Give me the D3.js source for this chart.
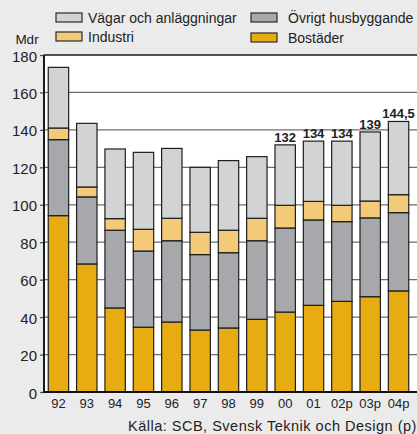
<!DOCTYPE html>
<html><head><meta charset="utf-8">
<script src="https://cdn.jsdelivr.net/npm/d3@7"></script>
<style>
html,body{margin:0;padding:0;background:#ebebeb;}
svg{display:block;}
text{font-family:"Liberation Sans",Arial,Helvetica,sans-serif;fill:#222;}
</style></head><body>
<svg id="c" width="417" height="434"></svg>
<script>
const categories = ["92","93","94","95","96","97","98","99","00","01","02p","03p","04p"];
const bostader = [94.2, 68.4, 44.9, 34.6, 37.4, 33.1, 34.2, 38.8, 42.7, 46.3, 48.4, 50.9, 54.0];
const ovrigt   = [40.6, 35.8, 41.5, 40.7, 43.4, 40.3, 40.2, 42.0, 44.9, 45.6, 42.6, 42.1, 41.8];
const industri = [6.2, 5.3, 6.2, 11.6, 12.0, 11.9, 12.0, 12.0, 12.1, 9.9, 8.7, 9.0, 9.6];
const vagar    = [32.4, 34.0, 37.2, 41.1, 37.3, 34.7, 37.2, 32.9, 32.3, 32.2, 34.3, 36.9, 39.1];
const totalLabels = [null,null,null,null,null,null,null,null,"132","134","134","139","144,5"];
const yTicks = [0,20,40,60,80,100,120,140,160,180];
const seriesKeys = ["bostader","ovrigt","industri","vagar"];
const seriesNames = {vagar:"Vägar och anläggningar", ovrigt:"Övrigt husbyggande", industri:"Industri", bostader:"Bostäder"};
const colors = {vagar:"#d2d3d5", ovrigt:"#a7a8ab", industri:"#f3ca78", bostader:"#e6ac12"};
const unit = "Mdr";
const source = "Källa: SCB, Svensk Teknik och Design (p)";

const svg = d3.select("#c");
const L = 44, R = 420, T = 55, B = 392;

const rows = categories.map((c,i)=>({cat:c, bostader:bostader[i], ovrigt:ovrigt[i], industri:industri[i], vagar:vagar[i]}));
const stack = d3.stack().keys(seriesKeys)(rows);

const x = d3.scaleBand().domain(categories).range([44, 413]).paddingInner(0.28).paddingOuter(0.15);
const y = d3.scaleLinear().domain([0,180]).range([B, T]);

// plot background
svg.append("rect").attr("x",L).attr("y",T).attr("width",R-L).attr("height",B-T).attr("fill","#fff");

// gridlines
svg.append("g").selectAll("line").data(yTicks.filter(d=>d>0 && d<180)).join("line")
  .attr("x1",L).attr("x2",R).attr("y1",d=>y(d)).attr("y2",d=>y(d))
  .attr("stroke","#6e6e6e").attr("stroke-width",1.3);

// bars
svg.append("g").selectAll("g").data(stack).join("g")
  .attr("fill",d=>colors[d.key])
  .selectAll("rect").data(d=>d).join("rect")
  .attr("x",d=>x(d.data.cat)).attr("width",x.bandwidth())
  .attr("y",d=>y(d[1])).attr("height",d=>y(d[0])-y(d[1]))
  .attr("stroke","#1e1e1e").attr("stroke-width",1.2);

// total labels
const totals = categories.map((c,i)=>bostader[i]+ovrigt[i]+industri[i]+vagar[i]);
svg.append("g").selectAll("text").data(categories.map((c,i)=>({c,i})).filter(d=>totalLabels[d.i])).join("text")
  .attr("x",d=>x(d.c)+x.bandwidth()/2).attr("y",d=>y(totals[d.i])-3)
  .attr("text-anchor","middle")
  .style("font-family","'Liberation Sans Narrow','Arial Narrow',sans-serif")
  .style("font-weight","bold").style("font-size","13px")
  .text(d=>totalLabels[d.i]);

// frame top
svg.append("line").attr("x1",L).attr("x2",R).attr("y1",T).attr("y2",T).attr("stroke","#1a1a1a").attr("stroke-width",1.5);

// y axis
const yAxis = d3.axisLeft(y).tickValues(yTicks).tickSize(4).tickPadding(3);
const ya = svg.append("g").attr("transform",`translate(${L},0)`).call(yAxis);
ya.select(".domain").remove();
ya.selectAll(".tick line").attr("stroke","#555").attr("stroke-width",1.3);
ya.selectAll(".tick text").style("font-size","15px").attr("fill","#222").attr("dy","0.4em");
svg.append("line").attr("x1",L).attr("x2",L).attr("y1",T).attr("y2",B+1).attr("stroke","#1a1a1a").attr("stroke-width",2);

// x axis
svg.append("line").attr("x1",L-1).attr("x2",R).attr("y1",B).attr("y2",B).attr("stroke","#111").attr("stroke-width",2);
svg.append("g").selectAll("text").data(categories).join("text")
  .attr("x",d=>x(d)+x.bandwidth()/2).attr("y",408)
  .attr("text-anchor","middle").style("font-size","13px").text(d=>d);

// unit
svg.append("text").attr("x",27).attr("y",44).attr("text-anchor","middle").style("font-size","13.5px").text(unit);

// legend
const legend = [
  {k:"vagar", x:56, y:13, tx:32},
  {k:"ovrigt", x:251, y:13, tx:37},
  {k:"industri", x:56, y:32, tx:32},
  {k:"bostader", x:251, y:33, tx:37}
];
const lg = svg.append("g").selectAll("g").data(legend).join("g").attr("transform",d=>`translate(${d.x},${d.y})`);
lg.append("rect").attr("width",26).attr("height",9).attr("fill",d=>colors[d.k]).attr("stroke","#2a2a2a").attr("stroke-width",1.2);
lg.append("text").attr("x",d=>d.tx).attr("y",10).style("font-size","14px").text(d=>seriesNames[d.k]);

// source
svg.append("text").attr("x",128).attr("y",431).style("font-size","14.5px").style("letter-spacing","0.5px").text(source);
</script>
</body></html>
